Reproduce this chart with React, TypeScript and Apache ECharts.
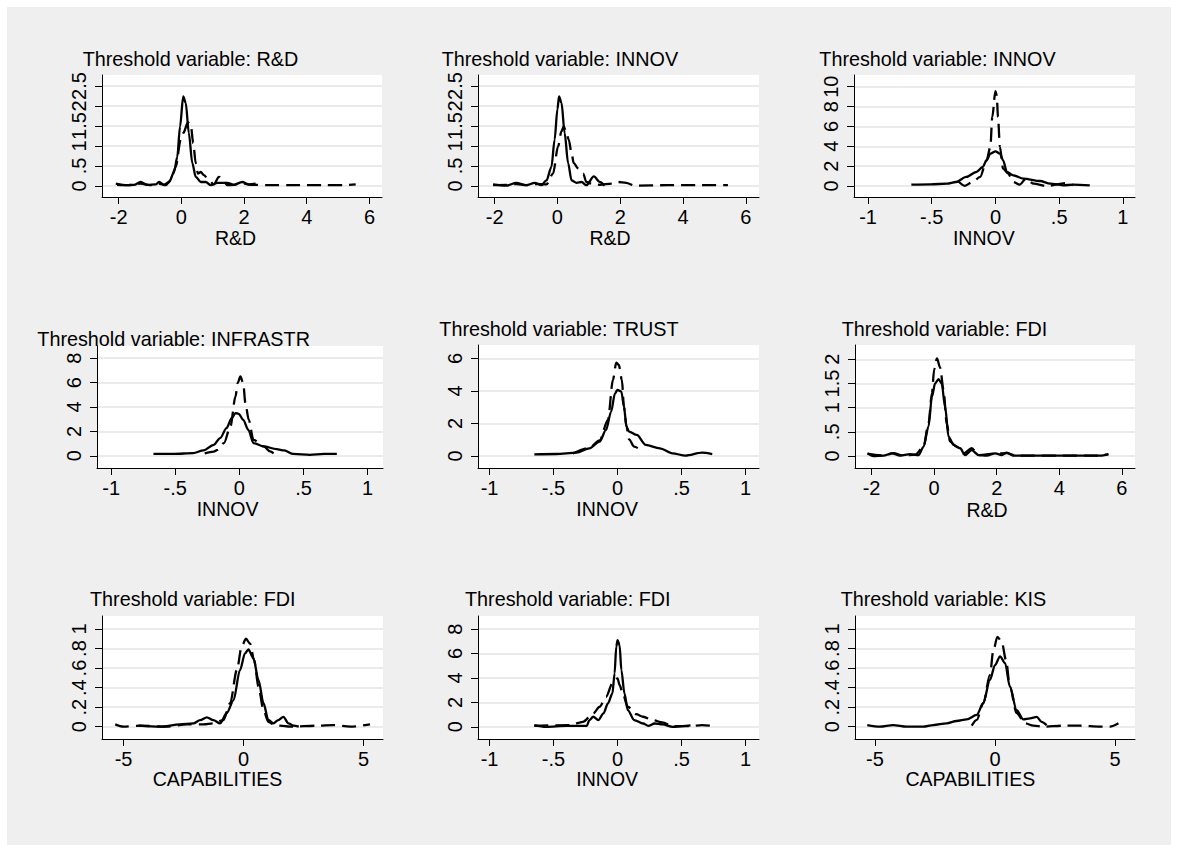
import React, { useEffect, useRef } from "react";
import * as echarts from "echarts";

const FONT = '"Liberation Sans", Arial, Helvetica, sans-serif';

// ---- titles & axis names
const panelTitles = [
  "Threshold variable: R&D",
  "Threshold variable: INNOV",
  "Threshold variable: INNOV",
  "Threshold variable: INFRASTR",
  "Threshold variable: TRUST",
  "Threshold variable: FDI",
  "Threshold variable: FDI",
  "Threshold variable: FDI",
  "Threshold variable: KIS",
];
const xNames = ["R&D", "R&D", "INNOV", "INNOV", "INNOV", "R&D", "CAPABILITIES", "INNOV", "CAPABILITIES"];

// ---- tick values
const xTicksRD = [-2, 0, 2, 4, 6];
const xTicksInnov = [-1, -0.5, 0, 0.5, 1];
const xTicksCap = [-5, 0, 5];
const yTicksHalf = [0, 0.5, 1, 1.5, 2, 2.5];
const yTicks10 = [0, 2, 4, 6, 8, 10];
const yTicks8 = [0, 2, 4, 6, 8];
const yTicks6 = [0, 2, 4, 6];
const yTicks2 = [0, 0.5, 1, 1.5, 2];
const yTicks1 = [0, 0.2, 0.4, 0.6, 0.8, 1];

// ---- curves (solid / dashed)
const p1Solid = [[-2.09,0.06],[-1.72,0.02],[-1.51,0.03],[-1.3,0.1],[-1.08,0.03],[-0.82,0.04],[-0.71,0.1],[-0.55,0.03],[-0.39,0.1],[-0.23,0.35],[-0.13,0.73],[-0.04,1.49],[0.06,2.24],[0.14,2.08],[0.24,1.32],[0.35,0.57],[0.46,0.23],[0.62,0.1],[0.78,0.1],[0.94,0.02],[1.15,0.08],[1.47,0.08],[1.68,0.03],[1.94,0.1],[2.16,0.04],[2.37,0.06]];
const p1Dashed = [[-2.05,0.03],[-1.72,0.02],[-1.3,0.06],[-1.0,0.02],[-0.72,0.06],[-0.5,0.02],[-0.34,0.14],[-0.18,0.48],[-0.02,1.16],[0.06,1.32],[0.21,1.59],[0.3,1.54],[0.38,1.07],[0.46,0.57],[0.53,0.31],[0.62,0.35],[0.72,0.27],[0.88,0.14],[1.04,0.04],[1.2,0.23],[1.34,0.13],[1.47,0.02],[1.68,0.03],[1.89,0.08],[2.21,0.03],[2.74,0.02],[3.5,0.02],[4.5,0.02],[5.2,0.02],[5.56,0.04]];

const p2Solid = [[-2.05,0.04],[-1.63,0.01],[-1.31,0.08],[-0.99,0.02],[-0.72,0.08],[-0.51,0.02],[-0.35,0.14],[-0.19,0.48],[-0.09,1.16],[0,1.92],[0.05,2.24],[0.13,2.08],[0.23,1.32],[0.34,0.57],[0.45,0.14],[0.61,0.08],[0.77,0.1],[0.92,0.02],[1.16,0.24],[1.35,0.1],[1.5,0.01]];
const p2Dashed = [[-2.05,0.02],[-1.6,0.03],[-1.3,0.05],[-1.0,0.02],[-0.7,0.05],[-0.35,0.04],[-0.14,0.31],[0.02,0.99],[0.13,1.37],[0.2,1.49],[0.29,1.32],[0.36,1.16],[0.45,0.82],[0.52,0.57],[0.66,0.44],[0.82,0.31],[0.92,0.1],[1.14,0.04],[1.35,0.03],[1.72,0.06],[1.93,0.1],[2.19,0.08],[2.46,0.01],[3.5,0.02],[4.5,0.02],[5.43,0.02]];

const p3Solid = [[-0.66,0.13],[-0.51,0.17],[-0.38,0.23],[-0.31,0.4],[-0.23,0.91],[-0.15,1.41],[-0.1,1.91],[-0.07,2.58],[-0.04,3.26],[0,3.49],[0.035,3.26],[0.06,2.58],[0.09,1.41],[0.14,1.07],[0.22,0.74],[0.35,0.5],[0.43,0.23],[0.53,0.07],[0.61,0.13],[0.74,0.07]];
const p3Dashed = [[-0.29,0.45],[-0.24,0.02],[-0.18,0.4],[-0.12,0.91],[-0.07,2.58],[-0.04,3.93],[-0.025,6.95],[0,9.56],[0.01,9.13],[0.02,6.95],[0.035,3.93],[0.06,1.74],[0.1,1.24],[0.14,0.4],[0.19,0.13],[0.24,0.74],[0.3,0.23],[0.4,0],[0.56,0.3],[0.61,0.07]];

const p4Solid = [[-0.67,0.16],[-0.51,0.16],[-0.36,0.22],[-0.28,0.44],[-0.2,0.9],[-0.15,1.45],[-0.1,2.27],[-0.06,3.09],[-0.03,3.5],[-0.005,3.44],[0.03,2.95],[0.07,2.13],[0.11,1.04],[0.19,0.77],[0.29,0.55],[0.35,0.44],[0.42,0.16],[0.55,0.08],[0.66,0.16],[0.76,0.16]];
const p4Dashed = [[-0.27,0.2],[-0.2,0.35],[-0.17,0.49],[-0.12,1.04],[-0.07,2.4],[-0.03,4.86],[-0.013,5.96],[0.008,6.5],[0.03,5.96],[0.047,4.32],[0.073,2.95],[0.11,1.31],[0.19,0.77],[0.24,0.36],[0.28,0.08]];

const p5Solid = [[-0.65,0.1],[-0.48,0.12],[-0.32,0.2],[-0.22,0.47],[-0.14,0.88],[-0.09,1.6],[-0.05,2.73],[-0.02,3.85],[0,4.06],[0.03,3.96],[0.05,3.03],[0.07,1.8],[0.09,1.5],[0.15,1.29],[0.22,0.68],[0.33,0.47],[0.43,0.16],[0.53,0.02],[0.66,0.2],[0.74,0.12]];
const p5Dashed = [[-0.35,0.15],[-0.22,0.5],[-0.14,0.95],[-0.075,2.21],[-0.036,4.67],[-0.01,5.74],[0.01,5.59],[0.034,4.67],[0.05,3.03],[0.07,1.8],[0.09,1.02],[0.13,0.57],[0.18,0.37]];

const p6Solid = [[-2.13,0.055],[-1.94,0],[-1.62,0.007],[-1.35,0.055],[-1.09,0.007],[-0.77,0.04],[-0.5,0.02],[-0.34,0.19],[-0.18,0.61],[-0.07,1.23],[0.03,1.5],[0.14,1.59],[0.24,1.5],[0.35,1.02],[0.46,0.4],[0.62,0.23],[0.83,0.16],[0.99,0.02],[1.2,0.12],[1.42,0.02],[1.68,0.007],[1.95,0.055],[2.16,0.02],[2.32,0.07],[2.53,0.007],[5.3,0.007],[5.57,0.04]];
const p6Dashed = [[-2.13,0.05],[-1.6,0.01],[-1.3,0.06],[-1.0,0.01],[-0.6,0.03],[-0.34,0.19],[-0.18,0.68],[-0.07,1.3],[0,1.79],[0.09,2.02],[0.19,1.83],[0.3,1.37],[0.4,0.68],[0.51,0.3],[0.72,0.19],[0.94,0.055],[1.2,0.16],[1.42,0.02],[1.95,0.05],[2.32,0.06],[2.6,0.01],[5.3,0.01],[5.57,0.04]];

const p7Solid = [[-4.38,0.01],[-3.48,0],[-2.65,0.024],[-2.09,0.034],[-1.81,0.068],[-1.53,0.096],[-1.26,0.068],[-0.98,0.034],[-0.7,0.14],[-0.42,0.27],[-0.15,0.58],[0.06,0.75],[0.2,0.79],[0.41,0.7],[0.62,0.48],[0.83,0.24],[1.03,0.07],[1.24,0.034],[1.45,0.068],[1.66,0.1],[1.87,0.034],[2.08,0.01],[2.3,0]];
const p7Dashed = [[-5.35,0.024],[-5.01,0],[-4.31,0.01],[-3.2,0],[-2.37,0.024],[-1.67,0.024],[-1.26,0.034],[-0.84,0.068],[-0.56,0.24],[-0.28,0.58],[-0.08,0.82],[0.1,0.9],[0.27,0.85],[0.44,0.68],[0.62,0.41],[0.83,0.17],[1.03,0.05],[1.24,0.027],[1.52,0.01],[1.94,0],[3.05,0.01],[3.74,0.017],[4.44,0],[5.27,0.024]];

const p8Solid = [[-0.65,0.14],[-0.56,0],[-0.4,0.08],[-0.24,0.08],[-0.22,0.55],[-0.19,0.82],[-0.15,0.55],[-0.11,1.09],[-0.075,1.91],[-0.04,2.73],[-0.023,4.37],[-0.01,6.56],[0,7.1],[0.016,6.69],[0.03,4.64],[0.054,2.73],[0.08,1.37],[0.13,0.55],[0.2,0.27],[0.24,0.08],[0.29,0.27],[0.35,0.19],[0.43,0],[0.51,0.05],[0.57,0.11]];
const p8Dashed = [[-0.65,0.08],[-0.37,0.14],[-0.27,0.41],[-0.19,1.09],[-0.14,1.64],[-0.09,2.46],[-0.04,3.55],[-0.023,3.83],[0,3.96],[0.016,3.42],[0.04,2.73],[0.08,1.64],[0.145,1.04],[0.2,0.82],[0.275,0.55],[0.35,0.36],[0.43,0.05],[0.56,0.05],[0.66,0.14],[0.74,0.08]];

const p9Solid = [[-5.32,0.017],[-4.79,0],[-4.24,0.017],[-3.68,0],[-2.99,0],[-2.57,0.017],[-2.01,0.034],[-1.6,0.058],[-1.18,0.075],[-0.76,0.12],[-0.49,0.24],[-0.21,0.48],[0,0.63],[0.21,0.72],[0.42,0.65],[0.62,0.41],[0.9,0.17],[1.18,0.075],[1.46,0.085],[1.74,0.1],[1.94,0.05],[2.15,0.017]];
const p9Dashed = [[-0.97,0.01],[-0.76,0.07],[-0.49,0.24],[-0.21,0.53],[-0.07,0.78],[0.1,0.92],[0.28,0.87],[0.46,0.68],[0.62,0.41],[0.9,0.14],[1.25,0.034],[1.6,0.01],[2.01,0],[2.85,0.01],[3.54,0.01],[4.37,0],[4.79,0],[5.14,0.034]];

const solidCurves = [p1Solid, p2Solid, p3Solid, p4Solid, p5Solid, p6Solid, p7Solid, p8Solid, p9Solid];
const dashedCurves = [p1Dashed, p2Dashed, p3Dashed, p4Dashed, p5Dashed, p6Dashed, p7Dashed, p8Dashed, p9Dashed];
const xTickSets = [xTicksRD, xTicksRD, xTicksInnov, xTicksInnov, xTicksInnov, xTicksRD, xTicksCap, xTicksInnov, xTicksCap];
const yTickSets = [yTicksHalf, yTicksHalf, yTicks10, yTicks8, yTicks6, yTicks2, yTicks1, yTicks8, yTicks1];

// ---- layout (pixel positions & axis ranges)
const layout = [
  { left: 102, top: 75, width: 280, height: 122, xMin: -2.53, xMax: 6.4, yMin: -0.275, yMax: 2.775, tx: 82.7, ty: 58.5, nx: 235.5, ny: 238 },
  { left: 478, top: 75, width: 281, height: 122, xMin: -2.53, xMax: 6.42, yMin: -0.275, yMax: 2.775, tx: 441.7, ty: 58.5, nx: 610, ny: 238 },
  { left: 854, top: 75, width: 281, height: 122, xMin: -1.11, xMax: 1.095, yMin: -1.11, yMax: 11.18, tx: 819.3, ty: 58.5, nx: 983.8, ny: 238 },
  { left: 97, top: 346, width: 286, height: 122, xMin: -1.11, xMax: 1.12, yMin: -1.0, yMax: 9.0, tx: 37.3, ty: 339.3, nx: 227.5, ny: 509.3 },
  { left: 478, top: 345, width: 281, height: 123, xMin: -1.09, xMax: 1.105, yMin: -0.74, yMax: 6.82, tx: 439.3, ty: 329.3, nx: 607.2, ny: 509.3 },
  { left: 855, top: 345, width: 280, height: 123, xMin: -2.53, xMax: 6.42, yMin: -0.248, yMax: 2.296, tx: 841.7, ty: 329.3, nx: 987, ny: 510 },
  { left: 102, top: 616, width: 281, height: 123, xMin: -5.9, xMax: 5.81, yMin: -0.126, yMax: 1.133, tx: 90, ty: 599.3, nx: 217.5, ny: 779.3 },
  { left: 478, top: 616, width: 281, height: 123, xMin: -1.09, xMax: 1.105, yMin: -1.0, yMax: 9.07, tx: 465, ty: 599.3, nx: 607.2, ny: 779.3 },
  { left: 855, top: 616, width: 280, height: 123, xMin: -5.83, xMax: 5.83, yMin: -0.126, yMax: 1.133, tx: 840.7, ty: 599.3, nx: 970.3, ny: 779.3 },
];

const fmt = (v: number) => String(+Number(v).toFixed(3)).replace(/^(-?)0\./, "$1.");

export default function App() {
  const ref = useRef<HTMLDivElement>(null);
  useEffect(() => {
    if (!ref.current) return;
    const chart = echarts.init(ref.current, undefined, { renderer: "svg" });

    const graphics: any[] = [
      { type: "rect", z: -100, silent: true, shape: { x: 7, y: 7, width: 1164, height: 838 }, style: { fill: "#efefef" } },
    ];
    layout.forEach((l, i) => {
      graphics.push({
        type: "text", x: l.tx, y: l.ty, silent: true,
        style: { text: panelTitles[i], fontSize: 19.8, fontFamily: FONT, fill: "#000", align: "left", verticalAlign: "middle" },
      });
      graphics.push({
        type: "text", x: l.nx, y: l.ny, silent: true,
        style: { text: xNames[i], fontSize: 19.5, fontFamily: FONT, fill: "#000", align: "center", verticalAlign: "middle" },
      });
    });

    const series: any[] = [];
    layout.forEach((_, i) => {
      series.push({
        type: "line", xAxisIndex: i, yAxisIndex: i, data: dashedCurves[i], showSymbol: false, silent: true,
        smooth: 0.3, smoothMonotone: "x",
        lineStyle: { color: "#000", width: 2.3, type: [14, 7] },
      });
      series.push({
        type: "line", xAxisIndex: i, yAxisIndex: i, data: solidCurves[i], showSymbol: false, silent: true,
        smooth: 0.3, smoothMonotone: "x",
        lineStyle: { color: "#000", width: 2.3, type: "solid" },
      });
    });

    chart.setOption({
      animation: false,
      backgroundColor: "#ffffff",
      graphic: graphics,
      grid: layout.map((l) => ({
        left: l.left, top: l.top, width: l.width, height: l.height,
        show: true, backgroundColor: "#ffffff", borderWidth: 0, containLabel: false,
      })),
      xAxis: layout.map((l, i) => ({
        type: "value", gridIndex: i, min: l.xMin, max: l.xMax,
        axisLine: { show: true, onZero: false, lineStyle: { color: "#000", width: 1 } },
        axisTick: { show: true, length: 7, customValues: xTickSets[i], lineStyle: { color: "#000", width: 1 } },
        axisLabel: { customValues: xTickSets[i], formatter: fmt, fontSize: 20, fontFamily: FONT, color: "#000", margin: 10 },
        splitLine: { show: false },
      })),
      yAxis: layout.map((l, i) => ({
        type: "value", gridIndex: i, min: l.yMin, max: l.yMax,
        axisLine: { show: true, onZero: false, lineStyle: { color: "#000", width: 1 } },
        axisTick: { show: true, length: 7, customValues: yTickSets[i], lineStyle: { color: "#000", width: 1 } },
        axisLabel: { customValues: yTickSets[i], formatter: fmt, rotate: 90, fontSize: 20, fontFamily: FONT, color: "#000", margin: 13 },
        splitLine: { show: true, lineStyle: { color: "#e4e4e4", width: 1.5 } },
      })),
      series,
    });
    return () => chart.dispose();
  }, []);
  return <div ref={ref} style={{ position: "absolute", left: 0, top: 0, width: 1178, height: 853 }} />;
}
